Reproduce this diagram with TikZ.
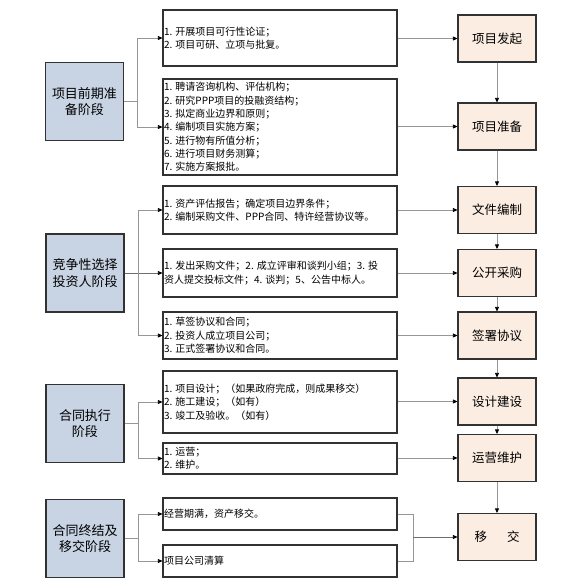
\documentclass[tikz,border=0pt]{standalone}
\usepackage{fontspec}
\setmainfont{Noto Sans CJK SC}
\usetikzlibrary{arrows.meta}
\definecolor{lfill}{RGB}{200,212,228}
\definecolor{rfill}{RGB}{252,237,226}
\definecolor{bord}{RGB}{50,50,50}
\definecolor{conn}{RGB}{150,150,150}
\definecolor{connd}{RGB}{110,110,110}
\tikzset{
  lbox/.style={draw=bord,line width=1.1pt,fill=lfill,minimum width=78pt,minimum height=78pt,inner sep=0pt,align=center,font=\fontsize{13pt}{16.5pt}\selectfont},
  mbox/.style={draw=bord,line width=1.1pt,fill=white,minimum width=234pt,inner sep=0pt},
  mtext/.style={anchor=west,align=left,inner sep=0pt,font=\fontsize{10pt}{13.3pt}\selectfont},
  rbox/.style={draw=bord,line width=1.1pt,fill=rfill,minimum width=78pt,minimum height=47pt,inner sep=0pt,align=center,font=\fontsize{12.5pt}{15pt}\selectfont},
  arr/.style={draw=conn,line width=0.7pt,-{Triangle[length=4.5pt,width=4pt,color=black]}},
  ln/.style={draw=conn,line width=0.7pt},
  lnd/.style={draw=connd,line width=0.7pt},
}
\begin{document}
\begin{tikzpicture}[x=1pt,y=-1pt]
\useasboundingbox[fill=white] (0,0) rectangle (571,587);
% left boxes
\node[lbox] (L1) at (84.5,101.5) {项目前期准\\备阶段};
\node[lbox] (L2) at (85,273) {竞争性选择\\投资人阶段};
\node[lbox] (L3) at (85,423.5) {合同执行\\阶段};
\node[lbox] (L4) at (85,538.5) {合同终结及\\移交阶段};
% middle boxes
\node[mbox,minimum height=56pt] (M1) at (280,38) {};
\node[mbox,minimum height=96pt] (M2) at (280,127) {};
\node[mbox,minimum height=48pt] (M3) at (280,210) {};
\node[mbox,minimum height=48pt] (M4) at (280,273) {};
\node[mbox,minimum height=47pt] (M5) at (280,335.5) {};
\node[mbox,minimum height=62pt] (M6) at (280,402) {};
\node[mbox,minimum height=31pt] (M7) at (280,458.5) {};
\node[mbox,minimum height=32pt] (M8) at (280,514) {};
\node[mbox,minimum height=32pt] (M9) at (280,561) {};
\node[mtext] (T1) at ([xshift=1.5pt]M1.west) {1. 开展项目可行性论证；\\2. 项目可研、立项与批复。};
\node[mtext] (T2) at ([xshift=1.5pt]M2.west) {1. 聘请咨询机构、评估机构；\\2. 研究PPP项目的投融资结构；\\3. 拟定商业边界和原则；\\4. 编制项目实施方案；\\5. 进行物有所值分析；\\6. 进行项目财务测算；\\7. 实施方案报批。};
\node[mtext] (T3) at ([xshift=1.5pt]M3.west) {1. 资产评估报告；确定项目边界条件；\\2. 编制采购文件、PPP合同、特许经营协议等。};
\node[mtext] (T4) at ([xshift=1.5pt]M4.west) {1. 发出采购文件；2. 成立评审和谈判小组；3. 投\\资人提交投标文件；4. 谈判；5、公告中标人。};
\node[mtext] (T5) at ([xshift=1.5pt]M5.west) {1. 草签协议和合同；\\2. 投资人成立项目公司；\\3. 正式签署协议和合同。};
\node[mtext] (T6) at ([xshift=1.5pt]M6.west) {1. 项目设计；（如果政府完成，则成果移交）\\2. 施工建设；（如有）\\3. 竣工及验收。（如有）};
\node[mtext] (T7) at ([xshift=1.5pt]M7.west) {1. 运营；\\2. 维护。};
\node[mtext] (T8) at ([xshift=1.5pt]M8.west) {经营期满，资产移交。};
\node[mtext] (T9) at ([xshift=1.5pt]M9.west) {项目公司清算};
% right boxes
\node[rbox] (R1) at (497,38.5) {项目发起};
\node[rbox] (R2) at (497,126.5) {项目准备};
\node[rbox] (R3) at (497,210) {文件编制};
\node[rbox] (R4) at (497,273) {公开采购};
\node[rbox] (R5) at (497,335.5) {签署协议};
\node[rbox] (R6) at (497,401.5) {设计建设};
\node[rbox] (R7) at (497,458) {运营维护};
\node[rbox] (R8) at (497,537) {移\hspace{20pt}交};
% left branches
\coordinate (b1) at (137,101.5);
\coordinate (b2) at (138,273);
\coordinate (b3) at (138,423.5);
\coordinate (b4) at (138,538.5);
\draw[ln] (L1.east) -- (b1);
\draw[arr] (b1) |- (M1.west);
\draw[arr] (b1) |- (M2.west);
\draw[arr,draw=connd] (L2.east) -- (M4.west);
\draw[arr] (b2) |- (M3.west);
\draw[arr] (b2) |- (M5.west);
\draw[ln] (L3.east) -- (b3);
\draw[arr] (b3) |- (M6.west);
\draw[arr] (b3) |- (M7.west);
\draw[ln] (L4.east) -- (b4);
\draw[arr] (b4) |- (M8.west);
\draw[arr] (b4) |- (M9.west);
% middle to right
\draw[arr] (M1.east |- R1.west) -- (R1.west);
\draw[arr] (M2.east |- R2.west) -- (R2.west);
\draw[arr] (M3.east |- R3.west) -- (R3.west);
\draw[arr] (M4.east |- R4.west) -- (R4.west);
\draw[arr] (M5.east |- R5.west) -- (R5.west);
\draw[arr] (M6.east |- R6.west) -- (R6.west);
\draw[arr] (M7.east |- R7.west) -- (R7.west);
\coordinate (j) at (413,537);
\draw[ln] (M8.east) -| (j);
\draw[ln] (M9.east) -| (j);
\draw[arr,draw=connd] (j) -- (R8.west);
% right chain
\draw[arr] (R1.south) -- (R2.north);
\draw[arr] (R2.south) -- (R3.north);
\draw[arr] (R3.south) -- (R4.north);
\draw[arr] (R4.south) -- (R5.north);
\draw[arr] (R5.south) -- (R6.north);
\draw[arr] (R6.south) -- (R7.north);
\draw[arr] (R7.south) -- (R8.north);
\end{tikzpicture}
\end{document}
